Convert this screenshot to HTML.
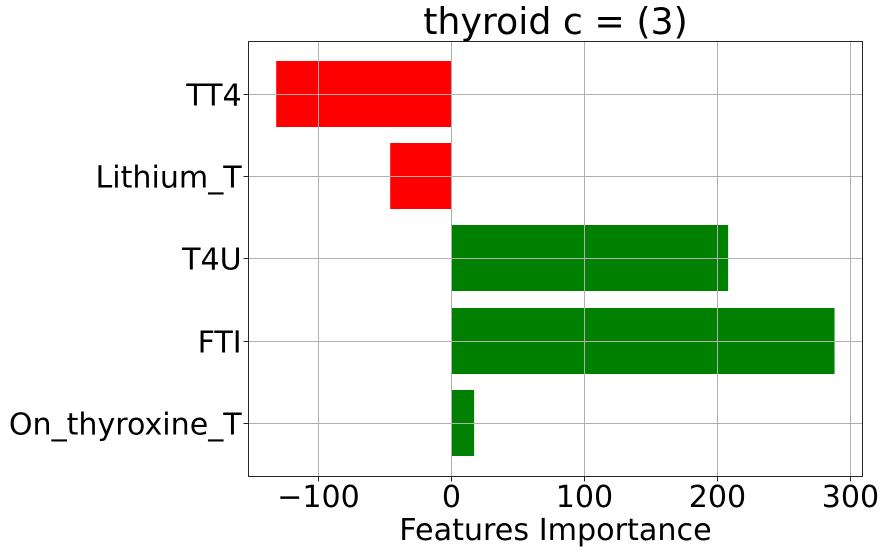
<!DOCTYPE html>
<html>
<head>
<meta charset="utf-8">
<style>
html,body{margin:0;padding:0;background:#fff;}
svg{display:block;}
text{font-family:"DejaVu Sans","Liberation Sans",sans-serif;fill:#000;}
</style>
</head>
<body>
<svg id="chart" xmlns="http://www.w3.org/2000/svg" width="885" height="552" viewBox="0 0 885 552"></svg>
<script>
const categories = ["TT4", "Lithium_T", "T4U", "FTI", "On_thyroxine_T"];
const importanceValues = [-131.8, -46.1, 208, 288, 17];
const xTickValues = [-100, 0, 100, 200, 300];
const xTickLabels = ["\u2212100", "0", "100", "200", "300"];
const titleText = "thyroid c = (3)";
const xAxisTitleText = "Features Importance";

const NS = "http://www.w3.org/2000/svg";
const svg = document.getElementById("chart");
const plot = {left: 248.5, right: 862.5, top: 41.5, bottom: 476.5};
const xZero = 451.5, xUnit = 1.33, yFirst = 94.5, yStep = 82.2, barThickness = 0.803;

function xScale(v) { return xZero + v * xUnit; }
function yScale(i) { return yFirst + i * yStep; }
function make(tag, attrs, text) {
  const el = document.createElementNS(NS, tag);
  for (const k in attrs) el.setAttribute(k, attrs[k]);
  if (text !== undefined) el.textContent = text;
  svg.appendChild(el);
  return el;
}

// bars
categories.forEach(function (name, i) {
  const v = importanceValues[i];
  const x0 = xScale(Math.min(v, 0));
  const x1 = xScale(Math.max(v, 0));
  const h = Math.round(yStep * barThickness);
  const bar = make("rect", {x: x0, y: Math.floor(yScale(i) - h / 2), width: x1 - x0, height: h, fill: v < 0 ? "#ff0000" : "#008000"});
  
  
});

// vertical grid lines, ticks and labels
xTickValues.forEach(function (v, i) {
  const x = Math.floor(xScale(v)) + 0.5;
  const grid = make("line", {x1: x, x2: x, y1: plot.top, y2: plot.bottom, stroke: "#b0b0b0", "stroke-width": 1});
  
  
  const tick = make("line", {x1: x, x2: x, y1: plot.bottom, y2: plot.bottom + 5, stroke: "#262626", "stroke-width": 1});
  
  
  const label = make("text", {x: x, y: 507, "text-anchor": "middle", "font-size": 30.1}, xTickLabels[i]);
  
  
});

// horizontal grid lines, ticks and labels
categories.forEach(function (name, i) {
  const y = Math.floor(yScale(i)) + 0.5;
  const grid = make("line", {x1: plot.left, x2: plot.right, y1: y, y2: y, stroke: "#b0b0b0", "stroke-width": 1});
  
  
  const tick = make("line", {x1: plot.left - 5, x2: plot.left, y1: y, y2: y, stroke: "#262626", "stroke-width": 1});
  
  
  const label = make("text", {x: 241.7, y: y + 11, "text-anchor": "end", "font-size": 30.1}, name);
  
  
});

// plot frame
const frame = make("rect", {x: plot.left, y: plot.top, width: plot.right - plot.left, height: plot.bottom - plot.top, fill: "none", stroke: "#262626", "stroke-width": 1});



const title = make("text", {x: 555.5, y: 34, "text-anchor": "middle", "font-size": 36.3}, titleText);



const xTitle = make("text", {x: 555.5, y: 540, "text-anchor": "middle", "font-size": 30.2}, xAxisTitleText);


</script>
</body>
</html>
